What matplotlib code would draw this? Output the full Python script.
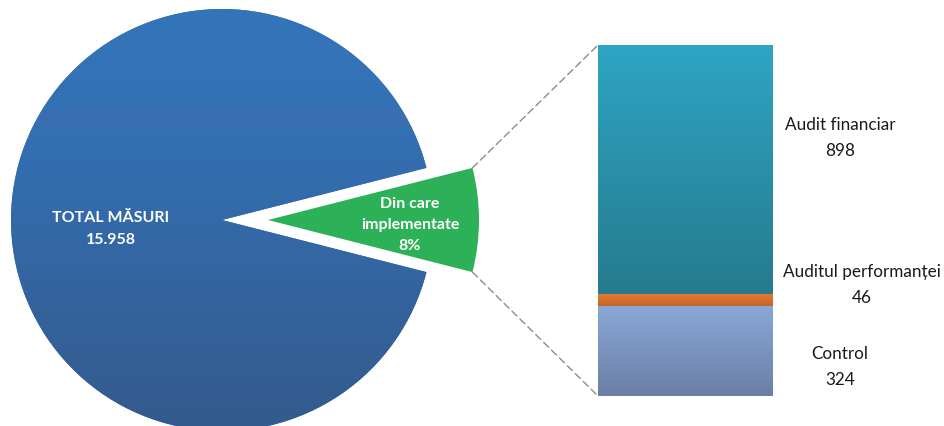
import numpy as np
import matplotlib
matplotlib.use("Agg")
import matplotlib.pyplot as plt
from matplotlib.patches import ConnectionPatch

plt.rcParams['font.family'] = ['Lato', 'DejaVu Sans']

# data
total_measures = 15958
bar_labels = ['Control', 'Auditul performanței', 'Audit financiar']
bar_values = [324, 46, 898]
implemented = sum(bar_values)
implemented_pct = '8%'

W, H = 944, 427


def hex_rgb(h):
    h = h.lstrip('#')
    return np.array([int(h[i:i + 2], 16) / 255 for i in (0, 2, 4)])


def gradient(ax, clip, extent, stops, z):
    # stops: list of (position 0 = top .. 1 = bottom, colour)
    t = np.linspace(0, 1, 512)
    pos = [s[0] for s in stops]
    cols = np.array([hex_rgb(s[1]) for s in stops])
    img = np.stack([np.interp(t, pos, cols[:, k]) for k in range(3)], axis=-1)[:, None, :]
    im = ax.imshow(img, extent=extent, aspect='auto', origin='upper',
                   interpolation='bilinear', zorder=z)
    im.set_clip_path(clip)
    return im


fig = plt.figure(figsize=(W / 100, H / 100), dpi=100)
ax = fig.add_axes([0, 0, 1, 1])

# pie: implemented slice first, centred on 0 degrees
# (explode is in data units here, the axes is in pixels)
frac = implemented / total_measures
wedges, _ = ax.pie([implemented, total_measures - implemented],
                   explode=[46, 0], startangle=-frac * 180,
                   center=(222, 206), radius=211, colors=['#2db158', '#3370b5'],
                   wedgeprops=dict(linewidth=0))
green, blue = wedges
cx, cy = blue.center
r = blue.r
blue_stops = [(0, '#3475ba'), (0.235, '#3371b5'), (0.24, '#3a6eb1'),
              (0.275, '#3a6eb1'), (0.28, '#3370b4'), (1, '#345a8c')]
gradient(ax, blue, [cx - r, cx + r, cy - r, cy + r], blue_stops, 2)
green.set_zorder(3)

ax.set_xlim(0, W)
ax.set_ylim(0, H)
ax.set_aspect('auto')
ax.axis('off')

ax.text(111, H - 229, f'TOTAL MĂSURI\n{total_measures:,}'.replace(',', '.'),
        color='white', fontsize=11.5, fontweight='bold', ha='center',
        va='center', linespacing=1.65, zorder=5)
ax.text(410, H - 225, f'Din care\nimplementate\n{implemented_pct}',
        color='white', fontsize=11.5, fontweight='bold', ha='center',
        va='center', linespacing=1.6, zorder=5)

# stacked bar
bax = fig.add_axes([598 / W, (H - 397) / H, (773 - 598) / W, (397 - 46) / H])
bottoms = np.concatenate([[0], np.cumsum(bar_values)[:-1]])
bar_grad = [('#8aa7d8', '#6b7fa5'), ('#ea7b30', '#c4652a'), ('#2ea5c4', '#267a8e')]
bars = bax.bar(0, bar_values, bottom=bottoms, width=1, linewidth=0)
for rect, (top, bot) in zip(bars, bar_grad):
    x0, y0 = rect.get_x(), rect.get_y()
    gradient(bax, rect, [x0, x0 + rect.get_width(), y0, y0 + rect.get_height()],
             [(0, top), (1, bot)], 3)
bax.set_xlim(-0.5, 0.5)
bax.set_ylim(0, implemented)
bax.axis('off')

# connectors from green slice corners to bar corners
gx, gy = green.center
for ang, yb in ((green.theta2, 1), (green.theta1, 0)):
    p = (gx + green.r * np.cos(np.radians(ang)), gy + green.r * np.sin(np.radians(ang)))
    con = ConnectionPatch(xyA=p, coordsA=ax.transData, xyB=(0, yb),
                          coordsB=bax.transAxes, color='#8c8c8c', lw=1,
                          linestyle=(0, (5, 3)))
    fig.add_artist(con)

label_pos = [(840, 367), (862, 285), (840, 138)]
for name, val, (lx, ly) in zip(bar_labels, bar_values, label_pos):
    ax.text(lx, H - ly, f'{name}\n{val}', fontsize=12.3, ha='center',
            va='center', linespacing=1.7, color='#1a1a1a')

fig.savefig('out.png', dpi=100)
